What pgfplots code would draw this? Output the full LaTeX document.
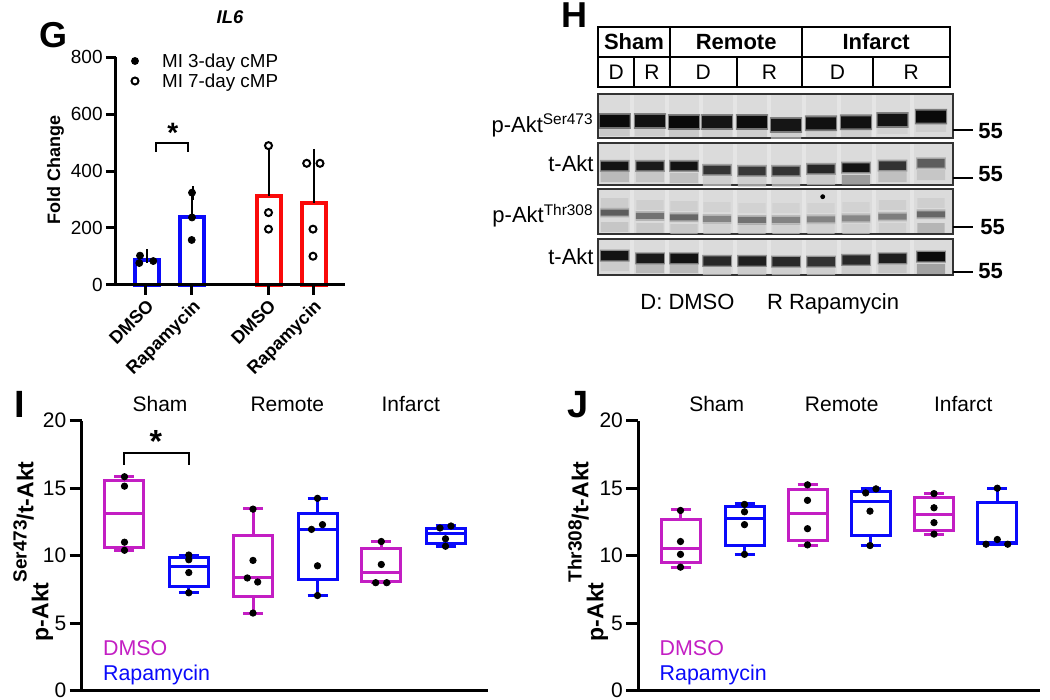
\documentclass[border=0pt]{standalone}
\usepackage{pgfplots}
\pgfplotsset{compat=1.18}
\usepackage{pgfplotstable}
\usepgfplotslibrary{statistics}
\usepackage{fontspec}
\setmainfont{Liberation Sans}
\definecolor{dmso}{RGB}{195,30,195}
\definecolor{rapa}{RGB}{10,10,250}
\definecolor{gred}{RGB}{250,10,10}
\definecolor{blotbg}{gray}{0.86}
\newcommand{\fs}[1]{\fontsize{#1}{#1}\selectfont}

\pgfdeclareplotmark{band}{%
  \pgfsetcornersarced{\pgfpoint{0.9\pgfplotmarksize}{0.9\pgfplotmarksize}}%
  \pgfpathmoveto{\pgfpoint{0pt}{-\pgfplotmarksize}}%
  \pgfpathlineto{\pgfpoint{2.6\pgfplotmarksize}{-\pgfplotmarksize}}%
  \pgfpathlineto{\pgfpoint{2.6\pgfplotmarksize}{\pgfplotmarksize}}%
  \pgfpathlineto{\pgfpoint{-2.6\pgfplotmarksize}{\pgfplotmarksize}}%
  \pgfpathlineto{\pgfpoint{-2.6\pgfplotmarksize}{-\pgfplotmarksize}}%
  \pgfpathclose
  \pgfusepathqfill}

% blot bands: x (lane centre, px), y (px), c (intensity 0..1)
\pgfplotstableread{
x y c
614.7 121 1.0
650 121 0.96
684 122 1.0
717 122 0.94
752 122 0.98
786 125 0.94
821 123.3 0.96
856 122.3 0.96
892.5 120 0.95
931 116.7 1.0
}\rowA
\pgfplotstableread{
x y c
614.7 129 0.14
650 129 0.10
684 130 0.14
717 130 0.08
752 130 0.10
786 132 0.08
821 130 0.08
856 130 0.10
892.5 127 0.08
931 125 0.10
}\rowAlow
\pgfplotstableread{
x y c
614.7 166 0.95
650 166 0.92
684 166 0.95
717 170 0.80
752 171 0.78
786 171 0.80
821 169 0.85
856 167.7 0.95
892.5 165.7 0.80
931 163.3 0.60
}\rowB
\pgfplotstableread{
x y c
614.7 177 0.22
650 177 0.14
684 178 0.18
717 181 0.08
752 182 0.08
786 182 0.08
821 180 0.10
856 180 0.42
892.5 177 0.18
931 175 0.14
}\rowBlow
\pgfplotstableread{
x y c
614.7 212.7 0.60
650 216 0.50
684 217.3 0.55
717 219 0.42
752 220 0.50
786 220 0.42
821 219.3 0.42
856 218.3 0.40
892.5 216.7 0.45
931 214.3 0.55
}\rowC
\pgfplotstableread{
x y c
614.7 203 0.10
650 205 0.08
684 206 0.08
717 207 0.06
752 208 0.06
786 208 0.06
821 208 0.06
856 207 0.06
892.5 205 0.08
931 203 0.08
614.7 227 0.14
650 228 0.12
684 229 0.12
717 229 0.06
752 229 0.08
786 229 0.06
821 229 0.06
856 229 0.08
892.5 228 0.08
931 228 0.26
}\rowCx
\pgfplotstableread{
x y c
614.7 255.7 0.95
650 258.3 0.92
684 258.3 0.95
717 261 0.85
752 261 0.90
786 261.7 0.85
821 261.7 0.80
856 260 0.85
892.5 258.3 0.90
931 256.7 1.00
}\rowD
\pgfplotstableread{
x y c
614.7 266 0.10
650 268 0.22
684 268 0.22
717 270 0.08
752 270 0.10
786 270 0.08
821 270 0.08
856 269 0.10
892.5 268 0.14
931 269 0.38
}\rowDlow

\pgfplotsset{
  bandsty/.style={scatter, only marks, scatter src=explicit, mark=band,
    scatter/use mapped color={fill=mapped color}},
  boxaxis/.style={scale only axis, height=135pt, xmin=0, ymin=0, ymax=20,
    axis lines=left, axis line style={-, line width=1.5pt, black},
    ytick={0,5,10,15,20}, xtick=\empty, tick align=outside,
    major tick length=6pt, tick style={line width=1.5pt, black},
    yticklabel style={font=\fs{10.5}, inner sep=1.5pt},
    boxplot/draw direction=y,
    clip=false, /pgf/number format/assume math mode=true},
  bxs/.style={line width=1.5pt, solid, boxplot/draw direction=y},
  blackdots/.style={only marks, mark=*, mark size=1.6pt, black},
  lanegap/.style={white, opacity=0.3, line width=2pt},
}

\begin{document}
\begin{tikzpicture}
\useasboundingbox (0,0) rectangle (525pt,350pt);

%================ overlay in pixel coordinates =================
\begin{axis}[name=ov, at={(0pt,0pt)}, anchor=south west, scale only axis,
  width=525pt, height=350pt, xmin=0, xmax=1050, ymin=0, ymax=700,
  y dir=reverse, hide axis, clip=false,
  colormap={blot}{gray(0cm)=(0.86); gray(1cm)=(0.04)},
  point meta min=0, point meta max=1]

% ---- panel G texts and legend
\node[font=\bfseries\fs{18}] at (axis cs:54,35) {G};
\node[font=\bfseries\itshape\fs{9.2}] at (axis cs:230,16.7) {IL6};
\addplot[only marks, mark=*, mark size=1.75pt, black] coordinates {(135,61)};
\addplot[only marks, mark=*, mark size=1.75pt, mark options={fill=white, draw=black, line width=1pt}] coordinates {(135,81)};
\node[anchor=base west, inner sep=0pt, font=\fs{9.4}] at (axis cs:161.7,67.7) {MI 3-day cMP};
\node[anchor=base west, inner sep=0pt, font=\fs{9.4}] at (axis cs:161.7,87.3) {MI 7-day cMP};
\node[anchor=north, inner sep=0pt, font=\bfseries\fs{14}] at (axis cs:172.7,123.3) {*};
\node[rotate=90, font=\bfseries\fs{9}] at (axis cs:55.5,170) {Fold Change};

% ---- panel H: western blot
\node[font=\bfseries\fs{18}] at (axis cs:574,15) {H};
\addplot[black, line width=1pt] coordinates {(598.3,26.7) (950,26.7) (950,87.3) (598.3,87.3) (598.3,26.7) (950,26.7)};
\addplot[black, line width=1pt] coordinates {(598.3,57.3) (950,57.3)};
\addplot[black, line width=1pt] coordinates {(670,26.7) (670,87.3)};
\addplot[black, line width=1pt] coordinates {(802.3,26.7) (802.3,87.3)};
\addplot[black, line width=1pt] coordinates {(634,57.3) (634,87.3)};
\addplot[black, line width=1pt] coordinates {(736.7,57.3) (736.7,87.3)};
\addplot[black, line width=1pt] coordinates {(872.7,57.3) (872.7,87.3)};
\node[font=\bfseries\fs{11}] at (axis cs:634,42) {Sham};
\node[font=\bfseries\fs{11}] at (axis cs:736.2,42) {Remote};
\node[font=\bfseries\fs{11}] at (axis cs:876.2,42) {Infarct};
\node[font=\fs{10.5}] at (axis cs:616.2,72.3) {D};
\node[font=\fs{10.5}] at (axis cs:652,72.3) {R};
\node[font=\fs{10.5}] at (axis cs:703.3,72.3) {D};
\node[font=\fs{10.5}] at (axis cs:769.5,72.3) {R};
\node[font=\fs{10.5}] at (axis cs:837.5,72.3) {D};
\node[font=\fs{10.5}] at (axis cs:911.3,72.3) {R};

% blot panels
\addplot[fill=blotbg, draw=none] coordinates {(598.3,94.3) (952.7,94.3) (952.7,137.7) (598.3,137.7)};
\addplot[fill=blotbg, draw=none] coordinates {(598.3,143.3) (952.7,143.3) (952.7,185) (598.3,185)};
\addplot[fill=blotbg, draw=none] coordinates {(598.3,189) (952.7,189) (952.7,234.3) (598.3,234.3)};
\addplot[fill=blotbg, draw=none] coordinates {(598.3,239.3) (952.7,239.3) (952.7,275) (598.3,275)};
% lighter gaps between lanes
\addplot[lanegap] coordinates {(632,95) (632,274)};
\addplot[lanegap] coordinates {(667,95) (667,274)};
\addplot[lanegap] coordinates {(700.5,95) (700.5,274)};
\addplot[lanegap] coordinates {(734.5,95) (734.5,274)};
\addplot[lanegap] coordinates {(769,95) (769,274)};
\addplot[lanegap] coordinates {(803.5,95) (803.5,274)};
\addplot[lanegap] coordinates {(838.5,95) (838.5,274)};
\addplot[lanegap] coordinates {(874,95) (874,274)};
\addplot[lanegap] coordinates {(911.7,95) (911.7,274)};

% bands
\addplot[bandsty, mark size=3.4pt, mark options={xscale=0.85, fill opacity=0.6}] table[x=x,y=y,meta=c]{\rowAlow};
\addplot[bandsty, mark size=3.9pt, mark options={xscale=0.8, fill opacity=0.45}] table[x=x,y=y,meta=c]{\rowA};
\addplot[bandsty, mark size=3pt, mark options={xscale=0.95}] table[x=x,y=y,meta=c]{\rowA};

\addplot[bandsty, mark size=2.6pt, mark options={xscale=1.05, fill opacity=0.7}] table[x=x,y=y,meta=c]{\rowBlow};
\addplot[bandsty, mark size=3pt, mark options={xscale=0.95, fill opacity=0.35}] table[x=x,y=y,meta=c]{\rowB};
\addplot[bandsty, mark size=2.2pt, mark options={xscale=1.2}] table[x=x,y=y,meta=c]{\rowB};

\addplot[bandsty, mark size=2.4pt, mark options={xscale=1.1, fill opacity=0.7}] table[x=x,y=y,meta=c]{\rowCx};
\addplot[bandsty, mark size=2.4pt, mark options={xscale=1.15, fill opacity=0.35}] table[x=x,y=y,meta=c]{\rowC};
\addplot[bandsty, mark size=1.5pt, mark options={xscale=1.8}] table[x=x,y=y,meta=c]{\rowC};
\addplot[only marks, mark=*, mark size=1pt, black] coordinates {(822.7,196.7)};

\addplot[bandsty, mark size=2.6pt, mark options={xscale=1.05, fill opacity=0.7}] table[x=x,y=y,meta=c]{\rowDlow};
\addplot[bandsty, mark size=3pt, mark options={xscale=0.95, fill opacity=0.4}] table[x=x,y=y,meta=c]{\rowD};
\addplot[bandsty, mark size=2.3pt, mark options={xscale=1.15}] table[x=x,y=y,meta=c]{\rowD};

% blot panel borders
\addplot[draw=black!80, line width=1pt] coordinates {(598.3,94.3) (952.7,94.3) (952.7,137.7) (598.3,137.7) (598.3,94.3) (952.7,94.3)};
\addplot[draw=black!80, line width=1pt] coordinates {(598.3,143.3) (952.7,143.3) (952.7,185) (598.3,185) (598.3,143.3) (952.7,143.3)};
\addplot[draw=black!80, line width=1pt] coordinates {(598.3,189) (952.7,189) (952.7,234.3) (598.3,234.3) (598.3,189) (952.7,189)};
\addplot[draw=black!80, line width=1pt] coordinates {(598.3,239.3) (952.7,239.3) (952.7,275) (598.3,275) (598.3,239.3) (952.7,239.3)};

% blot labels
\node[anchor=base east, inner sep=0pt, font=\fs{11}] at (axis cs:594,132.5) {p-Akt\textsuperscript{Ser473}};
\node[anchor=base east, inner sep=0pt, font=\fs{11}] at (axis cs:594,172) {t-Akt};
\node[anchor=base east, inner sep=0pt, font=\fs{11}] at (axis cs:594,223) {p-Akt\textsuperscript{Thr308}};
\node[anchor=base east, inner sep=0pt, font=\fs{11}] at (axis cs:594,265) {t-Akt};
% molecular weight markers
\addplot[black, line width=1pt] coordinates {(952.7,130) (973,130)};
\addplot[black, line width=1pt] coordinates {(952.7,177.7) (973,177.7)};
\addplot[black, line width=1pt] coordinates {(952.7,226.7) (973,226.7)};
\addplot[black, line width=1pt] coordinates {(952.7,271.7) (973,271.7)};
\node[anchor=west, inner sep=0pt, font=\bfseries\fs{11}] at (axis cs:978,131) {55};
\node[anchor=west, inner sep=0pt, font=\bfseries\fs{11}] at (axis cs:978,174.5) {55};
\node[anchor=west, inner sep=0pt, font=\bfseries\fs{11}] at (axis cs:980,227.5) {55};
\node[anchor=west, inner sep=0pt, font=\bfseries\fs{11}] at (axis cs:978,271) {55};
\node[anchor=base west, inner sep=0pt, font=\fs{11}] at (axis cs:640,309.6) {D: DMSO};
\node[anchor=base west, inner sep=0pt, font=\fs{11}] at (axis cs:766.7,309.6) {R Rapamycin};

% ---- panel I texts
\node[font=\bfseries\fs{19}] at (axis cs:19.7,404.5) {I};
\node[anchor=base, inner sep=0pt, font=\fs{10.5}] at (axis cs:160,411.7) {Sham};
\node[anchor=base, inner sep=0pt, font=\fs{10.5}] at (axis cs:287.3,411.7) {Remote};
\node[anchor=base, inner sep=0pt, font=\fs{10.5}] at (axis cs:410.7,411.7) {Infarct};
\node[anchor=north, inner sep=0pt, font=\bfseries\fs{16}] at (axis cs:155.8,430) {*};
\node[anchor=base west, inner sep=0pt, font=\fs{10.7}, text=dmso] at (axis cs:102.7,655) {DMSO};
\node[anchor=base west, inner sep=0pt, font=\fs{10.7}, text=rapa] at (axis cs:102.7,680) {Rapamycin};
\node[rotate=90, anchor=base west, inner sep=0pt, font=\bfseries\fs{11.5}] at (axis cs:48.3,641.7)
  {p-Akt\raisebox{10.8pt}{\fs{9.5}Ser473}\raisebox{7.5pt}{/t-Akt}};

% ---- panel J texts
\node[font=\bfseries\fs{19}] at (axis cs:578.3,405) {J};
\node[anchor=base, inner sep=0pt, font=\fs{10.5}] at (axis cs:716.7,411.7) {Sham};
\node[anchor=base, inner sep=0pt, font=\fs{10.5}] at (axis cs:841.7,411.7) {Remote};
\node[anchor=base, inner sep=0pt, font=\fs{10.5}] at (axis cs:963.3,411.7) {Infarct};
\node[anchor=base west, inner sep=0pt, font=\fs{10.7}, text=dmso] at (axis cs:659.3,655) {DMSO};
\node[anchor=base west, inner sep=0pt, font=\fs{10.7}, text=rapa] at (axis cs:659.3,680) {Rapamycin};
\node[rotate=90, anchor=base west, inner sep=0pt, font=\bfseries\fs{11.5}] at (axis cs:603.3,641.7)
  {p-Akt\raisebox{10.8pt}{\fs{9.5}Thr308}\raisebox{7.5pt}{/t-Akt}};
\end{axis}

%================ panel G: bar chart =================
\begin{axis}[at={(58pt,207.5pt)}, anchor=south west, scale only axis,
  width=114.5pt, height=114pt,
  xmin=0, xmax=229, ymin=0, ymax=800,
  axis lines=left, axis line style={-, line width=1.5pt, black},
  axis on top,
  tick align=outside, major tick length=5pt,
  tick style={line width=1.5pt, black},
  ytick={0,200,400,600,800},
  xtick={30,76,152,197},
  xticklabels={DMSO,Rapamycin,DMSO,Rapamycin},
  xticklabel style={rotate=45, anchor=north east, font=\bfseries\fs{9}, inner sep=1pt},
  yticklabel style={font=\fs{9.5}, inner sep=1.5pt},
  /pgf/number format/assume math mode=true,
  clip=false]
\addplot[ybar, bar width=24, bar shift=0pt, draw=rapa, fill=white, line width=2pt,
  error bars/.cd, y dir=plus, y explicit,
  error bar style={black, line width=1pt},
  error mark options={black, line width=1pt, mark size=3.5pt}]
  coordinates {(30.8,88) +- (0,13.4) (76.5,239.7) +- (0,83)};
\addplot[ybar, bar width=24, bar shift=0pt, draw=gred, fill=white, line width=2pt,
  error bars/.cd, y dir=plus, y explicit,
  error bar style={black, line width=1pt},
  error mark options={black, line width=1pt, mark size=3.5pt}]
  coordinates {(152.8,313) +- (0,155) (198.2,287.75) +- (0,165.4)};
\addplot[only marks, mark=*, mark size=1.75pt, black]
  coordinates {(23.3,77) (24,103) (37.3,84) (76,324) (76,237) (75.7,158)};
\addplot[only marks, mark=*, mark size=1.75pt, mark options={fill=white, draw=black, line width=1pt}]
  coordinates {(152.5,489) (152.5,254) (152.5,196) (190.7,427) (204,427) (197,196) (197,101)};
\addplot[black, line width=1pt] coordinates {(39.7,468) (39.7,499) (72.3,499) (72.3,468)};
\end{axis}

%================ panel I: box plots =================
\begin{axis}[boxaxis, at={(40.85pt,4.65pt)}, anchor=south west, width=203.3pt, xmax=406.6]
\addplot[bxs, draw=dmso, boxplot prepared={draw position=42.8, lower whisker=10.37, lower quartile=10.62, median=13.09, upper quartile=15.56, upper whisker=15.88, box extend=39, whisker extend=20}] coordinates {};
\addplot[bxs, draw=rapa, boxplot prepared={draw position=107.1, lower whisker=7.24, lower quartile=7.70, median=9.19, upper quartile=9.83, upper whisker=10.05, box extend=39, whisker extend=20}] coordinates {};
\addplot[bxs, draw=dmso, boxplot prepared={draw position=171.3, lower whisker=5.75, lower quartile=6.96, median=8.35, upper quartile=11.48, upper whisker=13.46, box extend=39, whisker extend=20}] coordinates {};
\addplot[bxs, draw=rapa, boxplot prepared={draw position=235.8, lower whisker=7.04, lower quartile=8.27, median=11.95, upper quartile=13.16, upper whisker=14.25, box extend=39, whisker extend=20}] coordinates {};
\addplot[bxs, draw=dmso, boxplot prepared={draw position=299.6, lower whisker=8.03, lower quartile=8.10, median=8.72, upper quartile=10.50, upper whisker=11.04, box extend=39, whisker extend=20}] coordinates {};
\addplot[bxs, draw=rapa, boxplot prepared={draw position=363.8, lower whisker=10.69, lower quartile=10.94, median=11.66, upper quartile=12.05, upper whisker=12.22, box extend=39, whisker extend=20}] coordinates {};
\addplot[blackdots] coordinates {
 (42.8,15.85) (42.8,15.15) (42.8,11.0) (42.8,10.4)
 (107.1,10.05) (107.1,9.7) (107.1,8.75) (107.1,7.25)
 (171.3,13.45) (171.3,9.65) (165.6,8.35) (176,8.05) (171.3,5.75)
 (235.8,14.25) (240.8,12.3) (229.8,11.95) (235.8,9.25) (235.8,7.05)
 (299.6,11.05) (299.6,9.35) (294,8.0) (305,8.0)
 (369.3,12.2) (358.3,12.05) (363.8,11.25) (363.8,10.7)};
\addplot[black, line width=1pt] coordinates {(42.8,16.72) (42.8,17.59) (107.1,17.59) (107.1,16.72)};
\end{axis}

%================ panel J: box plots =================
\begin{axis}[boxaxis, at={(319.15pt,4.65pt)}, anchor=south west, width=200.85pt, xmax=401.7]
\addplot[bxs, draw=dmso, boxplot prepared={draw position=42.2, lower whisker=9.14, lower quartile=9.46, median=10.57, upper quartile=12.67, upper whisker=13.39, box extend=39, whisker extend=20}] coordinates {};
\addplot[bxs, draw=rapa, boxplot prepared={draw position=106.2, lower whisker=10.12, lower quartile=10.74, median=12.79, upper quartile=13.63, upper whisker=13.83, box extend=39, whisker extend=20}] coordinates {};
\addplot[bxs, draw=dmso, boxplot prepared={draw position=169.2, lower whisker=10.79, lower quartile=11.16, median=13.09, upper quartile=14.89, upper whisker=15.26, box extend=39, whisker extend=20}] coordinates {};
\addplot[bxs, draw=rapa, boxplot prepared={draw position=232.4, lower whisker=10.74, lower quartile=11.48, median=14.0, upper quartile=14.74, upper whisker=14.99, box extend=39, whisker extend=20}] coordinates {};
\addplot[bxs, draw=dmso, boxplot prepared={draw position=295.7, lower whisker=11.58, lower quartile=11.85, median=13.04, upper quartile=14.32, upper whisker=14.64, box extend=39, whisker extend=20}] coordinates {};
\addplot[bxs, draw=rapa, boxplot prepared={draw position=359, lower whisker=10.85, lower quartile=10.94, median=11.0, upper quartile=13.95, upper whisker=15.0, box extend=39, whisker extend=20}] coordinates {};
\addplot[blackdots] coordinates {
 (42.2,13.35) (42.2,11.05) (42.2,10.1) (42.2,9.15)
 (106.2,13.8) (106.2,13.25) (106.2,12.3) (106.2,10.1)
 (169.2,15.25) (169.2,14.1) (169.2,12.0) (169.2,10.8)
 (237.7,14.95) (227.4,14.65) (231.7,13.3) (231.7,10.75)
 (295.7,14.6) (295.7,13.55) (295.7,12.45) (295.7,11.6)
 (359,15.0) (359,11.2) (347.7,10.85) (369.4,10.85)};
\end{axis}
\end{tikzpicture}
\end{document}
